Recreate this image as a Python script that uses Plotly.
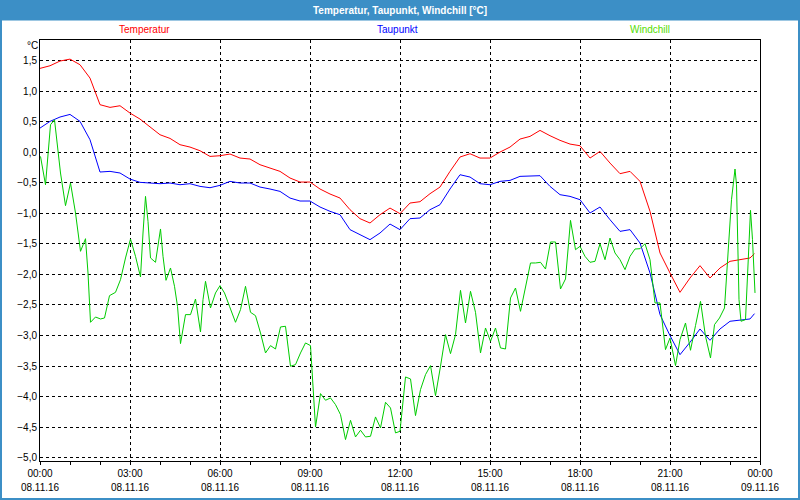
import plotly.graph_objects as go

# ---- data (minutes since 08.11.16 00:00, values in °C) ----
temp_min = [0, 20, 40, 60, 80, 100, 120, 140, 160, 180, 200, 220, 240, 260, 280, 300, 320, 340,
            360, 380, 400, 420, 440, 460, 480, 500, 520, 540, 560, 580, 600, 620, 640, 660, 680, 700,
            720, 740, 760, 780, 800, 820, 840, 860, 880, 900, 920, 940, 960, 980, 1000, 1020, 1040, 1060,
            1080, 1100, 1120, 1140, 1160, 1180, 1200, 1220, 1240, 1260, 1280, 1300, 1320, 1340, 1360,
            1380, 1400, 1420, 1429]
temp_val = [1.376, 1.419, 1.496, 1.528, 1.436, 1.217, 0.781, 0.737, 0.764, 0.644, 0.546, 0.415,
            0.289, 0.229, 0.126, 0.087, 0.027, -0.066,
            -0.055, -0.027, -0.093, -0.109, -0.202, -0.257, -0.311, -0.42, -0.486, -0.486, -0.600,
            -0.682, -0.748, -0.939, -1.086, -1.157, -1.021, -0.912,
            -1.004, -0.830, -0.808, -0.677, -0.568, -0.311, -0.076, -0.022, -0.093, -0.093, 0.005,
            0.087, 0.218, 0.262, 0.360, 0.273, 0.197, 0.136,
            0.109, -0.093, 0.016, -0.175, -0.349, -0.311, -0.475, -0.966, -1.648, -1.976, -2.293,
            -2.058, -1.856, -2.058, -1.894, -1.785, -1.757, -1.730, -1.659]

dew_min = temp_min
dew_val = [0.398, 0.508, 0.579, 0.622, 0.508, 0.207, -0.322, -0.311, -0.338, -0.437, -0.491, -0.502,
           -0.513, -0.502, -0.53, -0.513, -0.557, -0.579,
           -0.540, -0.475, -0.502, -0.502, -0.568, -0.600, -0.639, -0.748, -0.797, -0.797, -0.895,
           -0.966, -1.021, -1.266, -1.348, -1.430, -1.321, -1.174,
           -1.266, -1.086, -1.075, -0.939, -0.857, -0.600, -0.366, -0.404, -0.513, -0.530, -0.475,
           -0.459, -0.393, -0.393, -0.382, -0.557, -0.693, -0.721,
           -0.775, -0.993, -0.895, -1.103, -1.294, -1.266, -1.485, -1.976, -2.658, -3.002, -3.314,
           -3.111, -2.893, -3.079, -2.893, -2.767, -2.751, -2.729, -2.642]

wind_min = [1, 11, 21, 29, 41, 51, 61, 71, 81, 91, 96, 101, 111, 121, 129, 139, 151, 161, 171, 181,
            191, 201, 206, 211, 216, 221, 231, 241, 246, 252, 261, 269, 275, 281, 291, 301, 311, 316,
            321, 326, 331, 341, 351,
            360, 369, 379, 391, 401, 411, 421, 431, 441, 451, 461, 471, 481, 491, 501, 511, 521, 531,
            541, 551, 561, 571, 581, 591, 601, 611, 621, 631, 641, 651, 661, 671, 681, 691, 701, 711,
            720, 731, 741, 751, 761, 771, 781, 791, 801, 811, 821, 831, 841, 851, 861, 871, 881, 891,
            901, 911, 921, 931, 941, 951, 961, 971, 981, 991, 1001, 1011, 1021, 1031, 1041, 1051,
            1061, 1071,
            1080, 1090, 1100, 1110, 1120, 1130, 1140, 1150, 1160, 1170, 1180, 1190, 1200, 1210, 1220,
            1230, 1240, 1251, 1260, 1271, 1280, 1291, 1301, 1311, 1321, 1331, 1341, 1349, 1359, 1369,
            1375, 1383, 1390, 1393, 1398, 1402, 1411, 1416, 1421, 1425, 1430]
wind_val = [-0.066, -0.53, 0.453, 0.535, -0.338, -0.873, -0.502, -0.993, -1.621, -1.414, -1.976,
            -2.784, -2.697, -2.729, -2.713, -2.347, -2.293, -2.085, -1.73, -1.419, -1.703, -2.041,
            -1.321, -0.721, -1.13, -1.73, -1.801, -1.255, -1.703, -2.096, -1.894, -2.194, -2.522,
            -3.133, -2.658, -2.658, -2.402, -2.686, -2.942, -2.413, -2.112, -2.549, -2.303,
            -2.183, -2.303, -2.522, -2.784, -2.576, -2.194, -2.620, -2.675, -2.958, -3.286, -3.166,
            -3.221, -2.860, -2.849, -3.504, -3.477, -3.286, -3.122, -3.166, -4.5, -3.952, -4.061,
            -4.023, -4.132, -4.296, -4.705, -4.389, -4.662, -4.552, -4.662, -4.651, -4.334, -4.514,
            -4.094, -4.187, -4.596,
            -4.569, -3.679, -3.712, -4.312, -3.886, -3.641, -3.493, -3.985, -3.504, -2.986, -3.297,
            -2.986, -2.260, -2.795, -2.276, -2.620, -3.286, -2.877, -3.095, -2.877, -3.204, -3.221,
            -2.385, -2.222, -2.604, -2.194, -1.812, -1.812, -1.801, -1.911, -1.468, -1.468, -2.238,
            -2.074, -1.114, -1.594,
            -1.539, -1.703, -1.801, -1.785, -1.496, -1.758, -1.403, -1.648, -1.758, -1.921, -1.703,
            -1.583, -1.578, -1.496, -1.758, -2.467, -2.467, -3.231, -3.041, -3.493, -3.068, -2.795,
            -3.242, -2.838, -2.440, -3.013, -3.368, -2.822, -2.713, -2.549,
            -1.758, -0.775, -0.273, -0.53, -2.413, -2.767, -2.740, -1.80, -0.95, -1.43, -2.303]

tick_minutes = [0, 180, 360, 540, 720, 900, 1080, 1260, 1440]
tick_times = ["00:00", "03:00", "06:00", "09:00", "12:00", "15:00", "18:00", "21:00", "00:00"]
tick_dates = ["08.11.16"] * 8 + ["09.11.16"]
y_ticks = [1.5, 1.0, 0.5, 0.0, -0.5, -1.0, -1.5, -2.0, -2.5, -3.0, -3.5, -4.0, -4.5, -5.0]

title_text = "Temperatur, Taupunkt, Windchill [°C]"
series_names = ["Temperatur", "Taupunkt", "Windchill"]

# ---- figure ----
W, H = 800, 500
ML, MR, MT, MB = 40, 40, 40, 39
PW, PH = W - ML - MR, H - MT - MB


def px(x):
    return (x - ML) / PW


def py(y):
    return (H - MB - y) / PH


FONT = "Liberation Sans"
BAR = "#3c8fc6"

fig = go.Figure()
fig.add_trace(go.Scatter(x=temp_min, y=temp_val, mode="lines", name=series_names[0],
                         line=dict(color="#ff0000", width=1)))
fig.add_trace(go.Scatter(x=dew_min, y=dew_val, mode="lines", name=series_names[1],
                         line=dict(color="#0000ff", width=1)))
fig.add_trace(go.Scatter(x=wind_min, y=wind_val, mode="lines", name=series_names[2],
                         line=dict(color="#00cc00", width=1)))
fig.add_trace(go.Scatter(x=[0, 1440], y=[None, None], xaxis="x2", showlegend=False,
                         hoverinfo="skip"))

fig.update_layout(
    width=W, height=H,
    margin=dict(l=ML, r=MR, t=MT, b=MB, pad=0, autoexpand=False),
    paper_bgcolor="white", plot_bgcolor="white",
    showlegend=False,
    separators=",.",
    font=dict(family=FONT, size=10, color="black"),
    xaxis=dict(range=[0, 1440], tickvals=tick_minutes, ticktext=tick_times, automargin=False,
               showgrid=True, gridcolor="black", griddash="3px,3px", gridwidth=1,
               showline=True, linecolor="black", linewidth=1, mirror=True,
               ticks="outside", ticklen=3, tickcolor="black", zeroline=False,
               minor=dict(dtick=60, tick0=0, ticks="outside", ticklen=3, tickcolor="black",
                          showgrid=False),
               tickfont=dict(family=FONT, size=10, color="black")),
    xaxis2=dict(range=[0, 1440], tickvals=tick_minutes, ticktext=tick_dates, automargin=False,
                overlaying="x", anchor="y", side="bottom", showgrid=False, showline=False,
                ticks="", zeroline=False, ticklabelstandoff=19,
                tickfont=dict(family=FONT, size=10, color="black")),
    yaxis=dict(range=[-5.056, 1.841], tickvals=y_ticks, tickformat=".1f", automargin=False,
               showgrid=True, gridcolor="black", griddash="3px,3px", gridwidth=1,
               showline=True, linecolor="black", linewidth=1, mirror=True,
               ticks="", zeroline=False,
               tickfont=dict(family=FONT, size=10, color="black")),
)

shapes = [
    dict(type="rect", xref="paper", yref="paper", x0=px(0), x1=px(800), y0=py(20.5), y1=py(0),
         fillcolor=BAR, line=dict(width=0), layer="above"),
    dict(type="rect", xref="paper", yref="paper", x0=px(1), x1=px(799), y0=py(499), y1=py(1),
         fillcolor="rgba(0,0,0,0)", line=dict(color=BAR, width=2), layer="above"),
]
fig.update_layout(shapes=shapes)

ann = [
    dict(text="<b>" + title_text + "</b>", x=px(400), y=py(10.5), font=dict(color="white", size=10)),
    dict(text=series_names[0], x=px(144), y=py(30), font=dict(color="#ff0000", size=10)),
    dict(text=series_names[1], x=px(397), y=py(30), font=dict(color="#0000ff", size=10)),
    dict(text=series_names[2], x=px(650), y=py(30), font=dict(color="#55dd00", size=10)),
    dict(text="°C", x=px(32), y=py(45), font=dict(color="black", size=10)),
]
for a in ann:
    a.update(xref="paper", yref="paper", showarrow=False, xanchor="center", yanchor="middle")
    a["font"]["family"] = FONT
fig.update_layout(annotations=ann)

fig.write_html(
    "out.html",
    config={"displayModeBar": False, "staticPlot": True},
    post_script="document.body.style.margin='0';document.body.style.overflow='hidden';",
)
